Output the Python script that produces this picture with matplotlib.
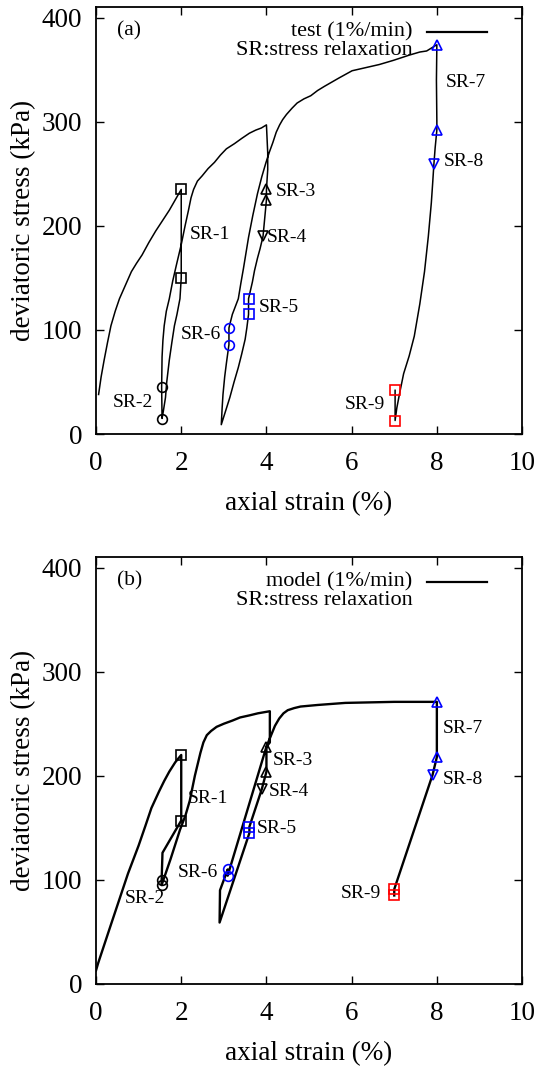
import matplotlib
matplotlib.use("Agg")
import matplotlib.pyplot as plt

plt.rcParams['font.family'] = ['Liberation Serif', 'DejaVu Serif']

# ---- panel (a): test ----
test_x = [0.06, 0.12, 0.19, 0.27, 0.35, 0.45, 0.55, 0.69, 0.83, 0.95, 1.08, 1.24, 1.40, 1.56, 1.72, 1.86, 2.0,
          2.0, 1.97, 1.90, 1.84, 1.78, 1.72, 1.66, 1.63, 1.58, 1.55,
          1.54, 1.55, 1.57, 1.60, 1.65, 1.72, 1.80, 1.89, 2.0, 2.09, 2.17, 2.23, 2.29, 2.38, 2.49,
          2.63, 2.78, 2.92, 3.06, 3.25, 3.42, 3.60, 3.75, 3.88, 4.0,
          4.03, 4.03, 4.0, 4.0, 3.92, 3.85, 3.79, 3.72, 3.67, 3.58, 3.58, 3.54, 3.50, 3.42, 3.34,
          3.24, 3.14, 3.04, 2.94,
          2.96, 2.98, 3.02, 3.06, 3.12, 3.12, 3.20, 3.34, 3.40, 3.46, 3.52, 3.58, 3.68, 3.79, 3.89,
          3.99, 4.07, 4.15, 4.23, 4.31, 4.38, 4.47, 4.60, 4.72, 4.88, 5.04, 5.20, 5.36, 5.70, 6.01,
          6.33, 6.65, 6.98, 7.35, 7.60, 7.76, 8.0,
          7.99, 8.0, 8.0, 7.96, 7.93, 7.90, 7.87, 7.80, 7.71, 7.60, 7.47, 7.35, 7.22, 7.13, 7.06,
          7.02, 7.02]
test_y = [38, 55, 71, 88, 104, 118, 130, 143, 156, 164, 172, 184, 195, 205, 215, 225, 235,
          150, 130, 115, 104, 88, 71, 50, 35, 22, 15,
          45, 74, 90, 104, 118, 130, 147, 163, 182, 200, 215, 227, 235, 243, 248,
          255, 261, 268, 274, 279, 284, 289, 292, 294, 297,
          270, 254, 235, 225, 190, 178, 169, 157, 146, 130, 115, 102, 91, 77, 64,
          50, 35, 22, 9,
          25, 38, 55, 68, 86, 102, 115, 130, 145, 159, 174, 189, 210, 231, 247,
          261, 271, 280, 290, 297, 302, 307, 313, 318, 322, 325, 330, 334, 342, 349,
          352, 355, 359, 364, 367, 368, 374,
          340, 300, 292, 275, 259, 240, 222, 190, 156, 125, 94, 75, 58, 40, 25,
          13, 42]

test_sr_x = [2.0, 2.0, 1.54, 1.54, 4.0, 4.0, 3.92, 3.58, 3.58, 3.12, 3.12, 8.0, 8.0, 7.93, 7.02, 7.02]
test_sr_y = [235, 150, 45, 14, 235, 225, 190, 130, 115, 102, 86, 374, 292, 259, 42, 13]

test_lab_x = [2.19, 0.39, 4.23, 4.0, 3.83, 2.0, 8.2, 8.16, 5.83]
test_lab_y = [192, 30, 233, 189, 122, 96, 338, 262, 28]

# ---- panel (b): model ----
model_x = [0.0, 0.05, 0.35, 0.75, 1.0, 1.16, 1.30, 1.48, 1.60, 1.72, 1.86, 2.0,
           2.0, 1.56, 1.54, 1.54, 1.75, 1.97, 2.10, 2.20, 2.32, 2.45, 2.52, 2.60, 2.70, 2.83,
           3.0, 3.2, 3.38, 3.6, 3.8, 4.08,
           4.08, 4.0, 4.0, 3.89, 3.6, 3.6, 2.9,
           2.91, 3.09, 3.09, 4.0, 4.1, 4.2, 4.3, 4.4, 4.5, 4.65, 4.8, 5.2, 5.85, 7.0, 8.0,
           8.0, 7.9, 7.0, 7.0]
model_y = [13, 20, 57, 106, 133, 152, 169, 185, 195, 204, 213, 220,
           157, 126, 100, 95, 120, 148, 162, 176, 200, 222, 232, 239, 243, 247,
           250, 253, 256, 258, 260, 262,
           232, 228, 204, 187, 151, 145, 59,
           90, 110, 104, 228, 238, 248, 255, 260, 263, 265, 266.5, 268, 270, 271, 271,
           218, 201, 91, 85]

model_sr_x = [2.0, 2.0, 1.54, 1.54, 4.0, 4.0, 3.89, 3.6, 3.6, 3.09, 3.09, 8.0, 8.0, 7.9, 7.0, 7.0]
model_sr_y = [220, 157, 100, 95, 228, 204, 187, 151, 145, 110, 104, 271, 218, 201, 91, 85]

model_lab_x = [2.15, 0.67, 4.15, 4.05, 3.78, 1.91, 8.13, 8.14, 5.74]
model_lab_y = [178, 82, 215, 185, 149, 107, 245, 196, 87]

sr_marker = ['s', 's', 'o', 'o', '^', '^', 'v', 's', 's', 'o', 'o', '^', '^', 'v', 's', 's']
sr_color = ['black'] * 7 + ['blue'] * 7 + ['red'] * 2
sr_labels = ['SR-1', 'SR-2', 'SR-3', 'SR-4', 'SR-5', 'SR-6', 'SR-7', 'SR-8', 'SR-9']


def draw_panel(ax, xs, ys, lw, srx, sry, labx, laby, legend_text, tag):
    ax.plot(xs, ys, color='black', lw=lw, zorder=2)
    for i in range(len(srx)):
        ax.plot(srx[i], sry[i], marker=sr_marker[i], ms=7, mfc='none',
                mec=sr_color[i], mew=1.2, ls='none', zorder=3)
    for i in range(len(sr_labels)):
        ax.text(labx[i], laby[i], sr_labels[i], fontsize=14, va='center', ha='left')
    ax.text(7.43, 386, legend_text, fontsize=16, ha='right', va='center')
    ax.plot([7.77, 9.17], [386, 386], color='black', lw=1.6)
    ax.text(7.43, 368, 'SR:stress relaxation', fontsize=16, ha='right', va='center')
    ax.text(0.5, 387, tag, fontsize=15.5, ha='left', va='center')
    ax.set_xlim(0, 10)
    ax.set_ylim(0, 410)
    ax.set_xticks([0, 2, 4, 6, 8, 10])
    ax.set_yticks([0, 100, 200, 300, 400])
    ax.tick_params(direction='in', top=True, right=True, length=6, width=1,
                   labelsize=19.5)
    ax.tick_params(axis='x', pad=12)
    ax.tick_params(axis='y', pad=10)
    for s in ax.spines.values():
        s.set_linewidth(1.3)
    ax.set_xlabel('axial strain (%)', fontsize=19.5, labelpad=11)
    ax.set_ylabel('deviatoric stress (kPa)', fontsize=19.5, labelpad=4)


fig = plt.figure(figsize=(5.41, 10.68), dpi=100)
ax1 = fig.add_axes([0.1775, 0.5936, 0.7875, 0.3996])
ax2 = fig.add_axes([0.1775, 0.0787, 0.7875, 0.3996])

draw_panel(ax1, test_x, test_y, 1.1, test_sr_x, test_sr_y, test_lab_x, test_lab_y,
           'test (1%/min)', '(a)')
draw_panel(ax2, model_x, model_y, 1.7, model_sr_x, model_sr_y, model_lab_x, model_lab_y,
           'model (1%/min)', '(b)')

plt.savefig('out.png', dpi=100)
